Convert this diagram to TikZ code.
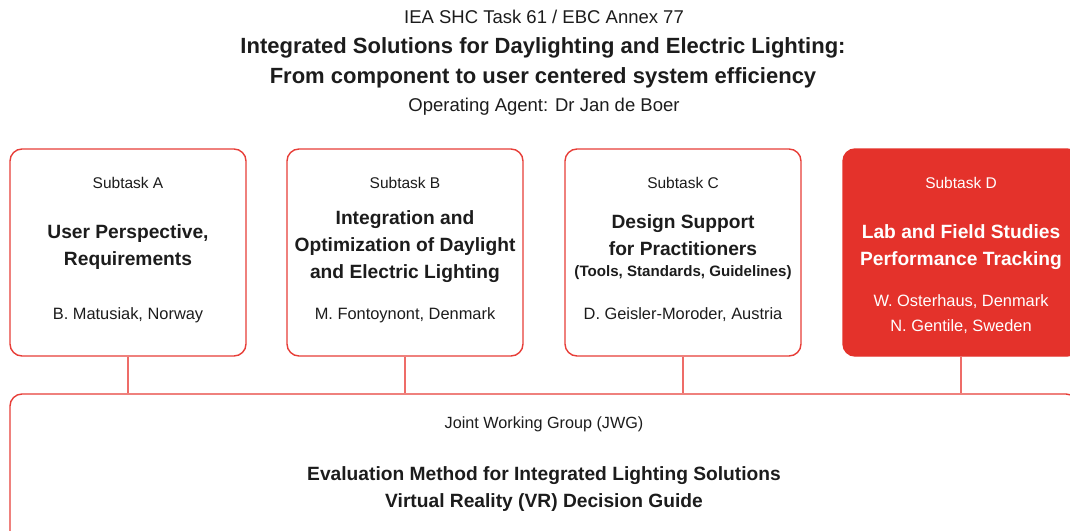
\documentclass[tikz,border=0pt]{standalone}
\usepackage{fontspec}
\setmainfont{Liberation Sans}
\usepackage{tikz}
\usetikzlibrary{%
  positioning,%
  calc%
}
\definecolor{taskred}{RGB}{231,62,56}
\definecolor{hotred}{RGB}{228,50,43}
\definecolor{linkred}{RGB}{238,108,104}
\definecolor{ink}{RGB}{28,28,28}

\tikzset{
  task/.style={draw=taskred,line width=1.4pt,rounded corners=12pt,
    minimum width=236pt,minimum height=207pt,inner sep=0pt},
  hot/.style={task,draw=hotred,fill=hotred},
  link/.style={draw=linkred,line width=1.3pt},
  head/.style={text=ink,font=\fontsize{15.5}{18}\selectfont,inner sep=0pt},
  topic/.style={text=ink,font=\fontsize{19.2}{27}\bfseries,align=center,inner sep=0pt},
  lead/.style={text=ink,font=\fontsize{16.4}{25}\selectfont,align=center,inner sep=0pt}
}

\begin{document}
\begin{tikzpicture}[x=1pt,y=-1pt]
\useasboundingbox (0,0) rectangle (1070,530);
\clip (0,0) rectangle (1070,530);
% title block
\node[text=ink,font=\fontsize{18.5}{22}\selectfont] (ttl) at (544,17)
  {IEA SHC Task 61 / EBC Annex 77};
\node[text=ink,font=\fontsize{22}{30}\bfseries,align=center] (main) at (543,63)
  {Integrated Solutions for Daylighting and Electric Lighting:\\
   From component to user centered system efficiency};
\node[text=ink,font=\fontsize{18.5}{22}\selectfont] (oa) at (544,106.5)
  {Operating Agent: Dr Jan de Boer};
%
% subtasks
\node[task] (A) at (128,252.5) {};
\node[task] (B) at (405,252.5) {};
\node[task] (C) at (683,252.5) {};
\node[hot]  (D) at (961,252.5) {};
\node[task,minimum width=1068pt,minimum height=170pt] (J) at (544,479) {};
%
\node[head] (hA) at ($(A.north)+(0,34.5)$) {Subtask A};
\node[topic] (tA) at ($(A.north)+(0,98.5)$) {User Perspective,\\Requirements};
\node[lead] (nA) at ($(A.north)+(0,166.5)$) {B. Matusiak, Norway};
%
\node[head] (hB) at ($(B.north)+(0,34.5)$) {Subtask B};
\node[topic] (tB) at ($(B.north)+(0,98.5)$)
  {Integration and\\Optimization of Daylight\\and Electric Lighting};
\node[lead] (nB) at ($(B.north)+(0,166.5)$) {M. Fontoynont, Denmark};
%
\node[head] (hC) at ($(C.north)+(0,34.5)$) {Subtask C};
\node[topic] (tC) at ($(C.north)+(0,87)$) {Design Support\\for Practitioners};
\node[text=ink,font=\fontsize{15.1}{18}\bfseries,inner sep=0pt] (gC)
  at ($(C.north)+(0,124)$) {(Tools, Standards, Guidelines)};
\node[lead] (nC) at ($(C.north)+(0,166.5)$) {D. Geisler-Moroder, Austria};
%
\node[head,text=white] (hD) at ($(D.north)+(0,34.5)$) {Subtask D};
\node[topic,text=white] (tD) at ($(D.north)+(0,98.5)$)
  {Lab and Field Studies\\Performance Tracking};
\node[lead,text=white] (nD) at ($(D.north)+(0,166)$)
  {W. Osterhaus, Denmark\\N. Gentile, Sweden};
%
\node[head,font=\fontsize{16.2}{18}\selectfont] (hJ) at ($(J.north)+(0,31.5)$)
  {Joint Working Group (JWG)};
\node[topic] (tJ) at ($(J.north)+(0,95.5)$)
  {Evaluation Method for Integrated Lighting Solutions\\
   Virtual Reality (VR) Decision Guide};
%
\draw[link] (A.south) -- (A.south |- J.north)
            (B.south) -- (B.south |- J.north)
            (C.south) -- (C.south |- J.north)
            (D.south) -- (D.south |- J.north);
\end{tikzpicture}
\end{document}
